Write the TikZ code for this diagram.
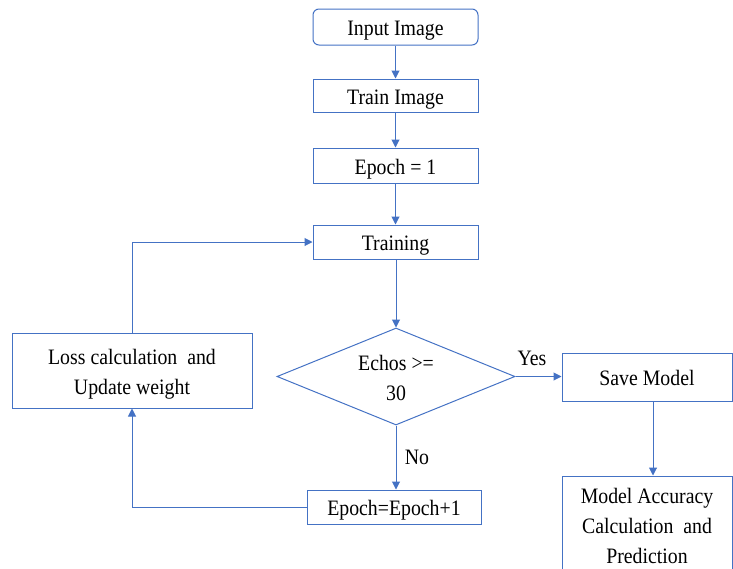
\documentclass[tikz,border=0pt]{standalone}
\usepackage{fontspec}
\setmainfont{Liberation Serif}[FakeStretch=0.9]
\usetikzlibrary{shapes.geometric,arrows.meta}
\definecolor{lineblue}{HTML}{4472C4}
\begin{document}
\begin{tikzpicture}[x=1pt,y=-1pt,
  box/.style={draw=lineblue,line width=1pt,rectangle,inner sep=2pt,align=center,font=\fontsize{22}{30}\selectfont,text height=22pt,text depth=4.8pt},
  twoline/.style={text height=52pt},
  threeline/.style={text height=78pt},
  flow/.style={draw=lineblue,line width=1pt,-{Triangle[width=8pt,length=8pt]}},
  lbl/.style={font=\fontsize{22}{30}\selectfont,inner sep=0pt}]
\useasboundingbox (0,0) rectangle (733,568);
\clip (0,0) rectangle (733,568);
\node[box,rounded corners=6pt,minimum width=165pt,minimum height=36pt] (input) at (395.5,27) {Input Image};
\node[box,minimum width=165pt,minimum height=33pt] (train) at (395.5,95.5) {Train Image};
\node[box,minimum width=165pt,minimum height=35pt] (ep1) at (395.5,165.5) {Epoch = 1};
\node[box,minimum width=165pt,minimum height=34pt] (training) at (395.5,242) {Training};
\node[box,twoline,shape=diamond,aspect=2.45,inner sep=0pt,minimum width=238pt,minimum height=97pt] (dec) at (396,376.5) {Echos >=\\30};
\node[box,minimum width=170pt,minimum height=48pt] (save) at (647,377) {Save Model};
\node[box,threeline,minimum width=170pt,minimum height=102pt] (acc) at (647,527) {Model Accuracy\\Calculation\ \ and\\Prediction};
\node[box,twoline,minimum width=240pt,minimum height=75pt] (loss) at (132,370.5) {Loss calculation\ \ and\\Update weight};
\node[box,minimum width=174pt,minimum height=34pt] (inc) at (394,507) {Epoch=Epoch+1};
\node[lbl] (yes) at (532,358) {Yes};
\node[lbl] (no) at (417,457) {No};
\draw[flow] (input) -- (train);
\draw[flow] (train) -- (ep1);
\draw[flow] (ep1) -- (training);
\draw[flow] (training.south -| dec.north) -- (dec.north);
\draw[flow] (dec.east) -- (save.west |- dec.east);
\draw[flow] (dec.south) -- (dec.south |- inc.north);
\draw[flow] (save.south -| 653,0) -- (acc.north -| 653,0);
\draw[flow] (loss.north) |- (training.west);
\draw[flow] (inc.west) -| (loss.south);
\end{tikzpicture}
\end{document}
